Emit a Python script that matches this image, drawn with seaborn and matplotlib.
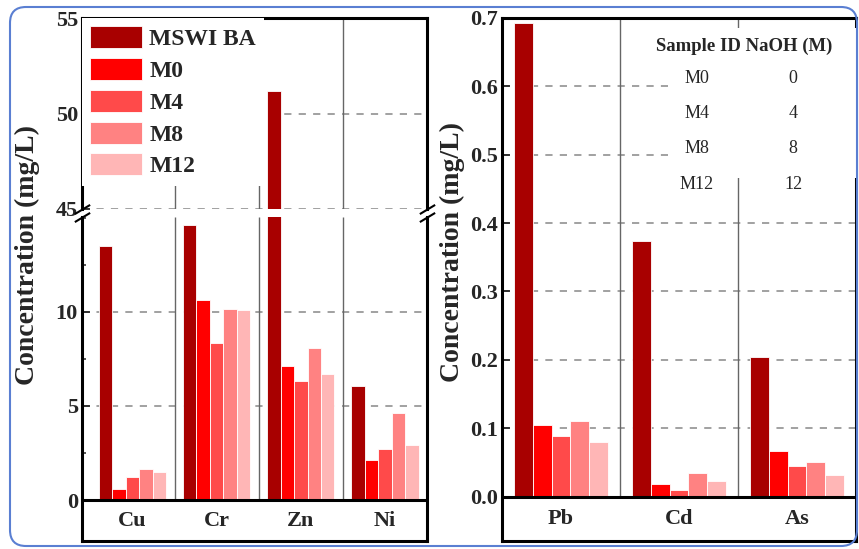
import pandas as pd
import seaborn as sns
import matplotlib.pyplot as plt
from matplotlib.patches import FancyBboxPatch, Rectangle
from matplotlib.ticker import MultipleLocator, FormatStrFormatter

# samples and their colours
samples = ['MSWI BA', 'M0', 'M4', 'M8', 'M12']
colors = ['#A80000', '#FF0000', '#FF4A4A', '#FF8282', '#FFB6B6']

# left panel (mg/L)
metals_a = ['Cu', 'Cr', 'Zn', 'Ni']
cu = [13.5, 0.6, 1.2, 1.65, 1.5]
cr = [14.6, 10.65, 8.35, 10.15, 10.1]
zn = [51.2, 7.1, 6.35, 8.1, 6.7]
ni = [6.05, 2.15, 2.7, 4.65, 2.9]

# right panel (mg/L)
metals_b = ['Pb', 'Cd', 'As']
pb = [0.693, 0.105, 0.089, 0.110, 0.080]
cd = [0.374, 0.019, 0.009, 0.034, 0.023]
as_ = [0.204, 0.066, 0.044, 0.050, 0.031]

# inset table
table_ids = ['M0', 'M4', 'M8', 'M12']
table_naoh = [0, 4, 8, 12]


def long_df(metals, rows):
    recs = []
    for m, vals in zip(metals, rows):
        for s, v in zip(samples, vals):
            recs.append((m, s, v))
    return pd.DataFrame(recs, columns=['metal', 'sample', 'conc'])


def bars(ax, df, metals, legend=False):
    sns.barplot(data=df, x='metal', y='conc', hue='sample', order=metals,
                hue_order=samples, palette=colors, saturation=1, width=0.8,
                errorbar=None, edgecolor='white', linewidth=0.6, ax=ax,
                legend=legend, zorder=2)
    ax.set_xlabel('')
    ax.set_ylabel('')
    ax.set_xticks([])


def grid(ax, vals):
    for v in vals:
        ax.axhline(v, color='#9a9a9a', lw=1.3, ls=(0, (4, 4)), zorder=0)


sns.set_style('white')
plt.rcParams['font.family'] = ['Liberation Serif', 'DejaVu Serif']
plt.rcParams['font.weight'] = 'bold'

W, H = 859, 549
fig = plt.figure(figsize=(W / 100, H / 100), dpi=100)

ax_up = fig.add_axes([82 / W, 1 - 209 / H, 345 / W, 191 / H])
ax_lo = fig.add_axes([82 / W, 1 - 541 / H, 345 / W, 324 / H])
ax_r = fig.add_axes([502 / W, 1 - 541 / H, 354 / W, 523 / H])

df_a = long_df(metals_a, [cu, cr, zn, ni])
df_b = long_df(metals_b, [pb, cd, as_])

bars(ax_up, df_a, metals_a, legend=True)
bars(ax_lo, df_a, metals_a)
bars(ax_r, df_b, metals_b)

# ---- left panel, broken axis
ax_up.set_xlim(-0.6, 3.5)
ax_lo.set_xlim(-0.6, 3.5)
ax_up.set_ylim(45, 55)
ax_lo.set_ylim(-2.18, 15.05)

grid(ax_up, [45, 50])
grid(ax_lo, [5, 10])
ax_up.vlines([0.5, 1.5, 2.5], 45, 55, color='#666666', lw=1, zorder=1)
ax_lo.vlines([0.5, 1.5, 2.5], 0, 15.05, color='#666666', lw=1, zorder=1)
ax_lo.axhline(0, color='k', lw=2.2, zorder=4)

ax_up.yaxis.set_major_locator(MultipleLocator(5))
ax_up.yaxis.set_minor_locator(MultipleLocator(2.5))
ax_lo.set_yticks([0, 5, 10])
ax_lo.yaxis.set_minor_locator(MultipleLocator(2.5))

ax_up.spines['bottom'].set_visible(False)
ax_lo.spines['top'].set_visible(False)

for i, m in enumerate(metals_a):
    ax_lo.text(i, -1.09, m, ha='center', va='center', fontsize=16, fontweight='bold')

d = dict(marker=[(-1, -0.6), (1, 0.6)], markersize=11, linestyle='none',
         color='k', mec='k', mew=1.5, clip_on=False, zorder=6)
ax_up.plot([0, 1], [0, 0], transform=ax_up.transAxes, **d)
ax_lo.plot([0, 1], [1, 1], transform=ax_lo.transAxes, **d)

leg = ax_up.legend(loc='upper left', bbox_to_anchor=(0, 1), borderaxespad=0,
                   frameon=True, fancybox=False, facecolor='white', edgecolor='none',
                   framealpha=1, prop=dict(weight='bold', size=17),
                   handlelength=2.2, handleheight=1.05, handletextpad=0.3,
                   labelspacing=0.33, borderpad=0.35)
leg.set_zorder(5)

# ---- right panel
ax_r.set_xlim(-0.5, 2.5)
ax_r.set_ylim(-0.065, 0.7)
grid(ax_r, [0.1, 0.2, 0.3, 0.4, 0.5, 0.6])
ax_r.vlines([0.5, 1.5], 0, 0.7, color='#666666', lw=1, zorder=1)
ax_r.axhline(0, color='k', lw=2.2, zorder=4)
ax_r.set_yticks([0.0, 0.1, 0.2, 0.3, 0.4, 0.5, 0.6, 0.7])
ax_r.yaxis.set_major_formatter(FormatStrFormatter('%.1f'))

for i, m in enumerate(metals_b):
    ax_r.text(i, -0.0325, m, ha='center', va='center', fontsize=16, fontweight='bold')

# inset table on a white patch
ax_r.add_patch(Rectangle((0.469, 0.694), 0.531, 0.287, transform=ax_r.transAxes,
                         facecolor='white', edgecolor='none', zorder=3))
ax_r.text(0.684, 0.945, 'Sample ID NaOH (M)', transform=ax_r.transAxes,
          ha='center', va='center', fontsize=13.5, fontweight='bold', zorder=6)
for k, (sid, n) in enumerate(zip(table_ids, table_naoh)):
    yy = 0.885 - k * 0.0675
    ax_r.text(0.551, yy, sid, transform=ax_r.transAxes, ha='center', va='center',
              fontsize=13, fontweight='normal', zorder=6)
    ax_r.text(0.822, yy, str(n), transform=ax_r.transAxes, ha='center', va='center',
              fontsize=13, fontweight='normal', zorder=6)

# ---- shared styling
for ax in (ax_up, ax_lo, ax_r):
    for s in ax.spines.values():
        s.set_linewidth(2.2)
        s.set_color('black')
    ax.tick_params(axis='y', which='major', direction='in', length=6, width=1.3,
                   labelsize=16, left=True, pad=3)
    ax.tick_params(axis='y', which='minor', direction='in', length=3, width=1.1, left=True)
    ax.tick_params(axis='x', bottom=False)
    for lbl in ax.get_yticklabels():
        lbl.set_fontweight('bold')
ax_r.tick_params(axis='y', which='minor', left=False)

fig.text(27 / W, 1 - 255 / H, 'Concentration (mg/L)', rotation=90, ha='center',
         va='center', fontsize=20, fontweight='bold')
fig.text(452 / W, 1 - 252 / H, 'Concentration (mg/L)', rotation=90, ha='center',
         va='center', fontsize=20, fontweight='bold')

# rounded blue frame
fig.add_artist(FancyBboxPatch((0.10, 0.03), 8.47, 5.39,
                              boxstyle='round,pad=0,rounding_size=0.16',
                              transform=fig.dpi_scale_trans, fill=False,
                              ec='#5A7FD2', lw=1.5))

fig.savefig('out.png', dpi=100)
